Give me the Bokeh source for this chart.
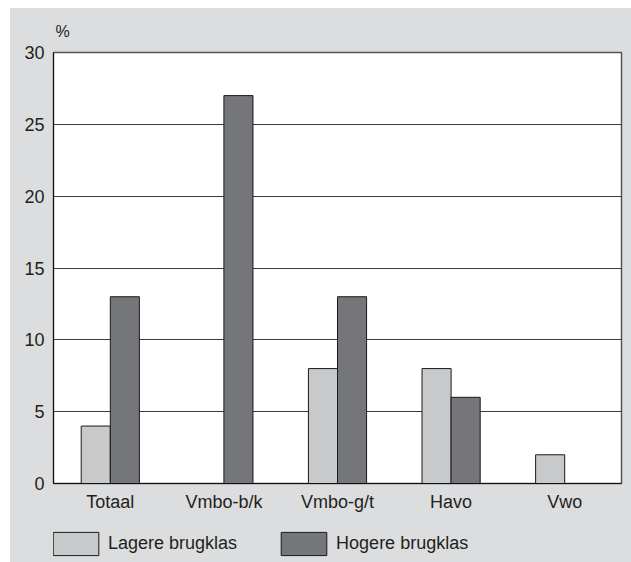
from bokeh.plotting import figure
from bokeh.layouts import column
from bokeh.models import FactorRange, Range1d, Legend, LegendItem, Title, FixedTicker, ColumnDataSource
from bokeh.transform import dodge
from bokeh.embed import file_html
from bokeh.resources import INLINE

categories = ["Totaal", "Vmbo-b/k", "Vmbo-g/t", "Havo", "Vwo"]
lagere = [4, 0, 8, 8, 2]
hogere = [13, 27, 13, 6, 0]
series_names = ["Lagere brugklas", "Hogere brugklas"]
y_ticks = [0, 5, 10, 15, 20, 25, 30]

FONT = "Liberation Sans"
TXT = "#231f20"
BG = "#dcdddf"
LIGHT = "#c8c9cb"
DARK = "#75767a"
EDGE = "#1a1a1a"

source = ColumnDataSource(data=dict(cat=categories, lagere=lagere, hogere=hogere))

p = figure(width=621, height=512,
           x_range=FactorRange(*categories, range_padding=0),
           y_range=Range1d(0, 30),
           output_backend="svg", toolbar_location=None,
           min_border_left=43, min_border_right=10,
           min_border_top=44, min_border_bottom=37)

p.border_fill_color = BG
p.background_fill_color = "white"
p.outline_line_color = "#555555"
p.outline_line_width = 1.5

r1 = p.vbar(x=dodge("cat", -0.128, range=p.x_range), top="lagere", width=0.256,
            source=source, fill_color=LIGHT, line_color=EDGE, line_width=1)
r2 = p.vbar(x=dodge("cat", 0.128, range=p.x_range), top="hogere", width=0.256,
            source=source, fill_color=DARK, line_color=EDGE, line_width=1)

# axes
p.yaxis.ticker = FixedTicker(ticks=y_ticks)
p.yaxis.major_tick_line_color = None
p.yaxis.minor_tick_line_color = None
p.yaxis.axis_line_color = "#111111"
p.yaxis.major_label_standoff = 3
p.yaxis.major_label_text_font = FONT
p.yaxis.major_label_text_font_size = "18px"
p.yaxis.major_label_text_color = TXT

p.xaxis.major_tick_line_color = None
p.xaxis.minor_tick_line_color = None
p.xaxis.axis_line_color = "#111111"
p.xaxis.major_label_standoff = 2
p.xaxis.major_label_text_font = FONT
p.xaxis.major_label_text_font_size = "18px"
p.xaxis.major_label_text_color = TXT

p.xgrid.grid_line_color = None
p.ygrid.grid_line_color = "#3a3a3a"
p.ygrid.grid_line_width = 1

# unit label
t = Title(text="%", align="left", text_font=FONT, text_font_size="16px",
          text_font_style="normal", text_color=TXT, offset=2, standoff=25)
p.add_layout(t, "above")

# legend strip (separate figure so the legend sits outside the plot frame)
lf = figure(width=621, height=42, x_range=Range1d(0, 1), y_range=Range1d(0, 1),
            output_backend="svg", toolbar_location=None,
            x_axis_location=None, y_axis_location=None,
            min_border=0, min_border_left=0, min_border_right=0,
            min_border_top=0, min_border_bottom=0)
lf.border_fill_color = BG
lf.background_fill_color = None
lf.outline_line_color = None
lf.grid.visible = False
dummy = ColumnDataSource(data=dict(x=[-10], top=[-10]))
l1 = lf.vbar(x="x", top="top", width=0.1, source=dummy, fill_color=LIGHT, line_color=EDGE, line_width=1)
l2 = lf.vbar(x="x", top="top", width=0.1, source=dummy, fill_color=DARK, line_color=EDGE, line_width=1)

legend = Legend(items=[LegendItem(label=series_names[0], renderers=[l1]),
                       LegendItem(label=series_names[1], renderers=[l2])],
                orientation="horizontal", location=(-6, 4),
                glyph_width=57, glyph_height=29, label_standoff=4, spacing=38,
                padding=0, margin=0, border_line_color=None,
                background_fill_alpha=0,
                label_text_font=FONT, label_text_font_size="18px",
                label_text_color=TXT, label_height=29)
lf.add_layout(legend, "center")

layout = column(p, lf, spacing=0, margin=(8, 0, 0, 10), styles={"background-color": BG})

open("out.html", "w").write(file_html(layout, INLINE))
